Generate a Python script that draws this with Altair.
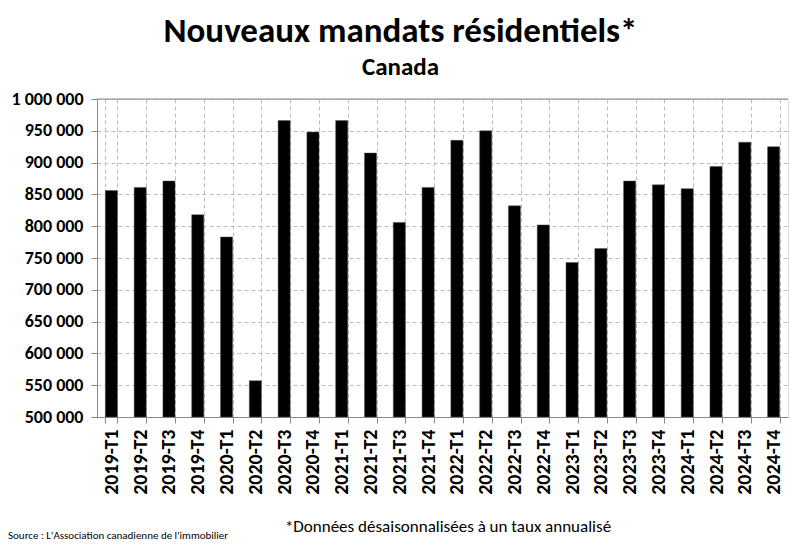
import altair as alt
import pandas as pd

periods = ["2019-T1", "2019-T2", "2019-T3", "2019-T4",
           "2020-T1", "2020-T2", "2020-T3", "2020-T4",
           "2021-T1", "2021-T2", "2021-T3", "2021-T4",
           "2022-T1", "2022-T2", "2022-T3", "2022-T4",
           "2023-T1", "2023-T2", "2023-T3", "2023-T4",
           "2024-T1", "2024-T2", "2024-T3", "2024-T4"]
values = [856000, 861000, 871000, 818000,
          783000, 557000, 966000, 948000,
          966000, 915000, 806000, 861000,
          935000, 950000, 832000, 802000,
          743000, 765000, 871000, 865000,
          859000, 894000, 932000, 925000]
y_ticks = [500000, 550000, 600000, 650000, 700000, 750000, 800000,
           850000, 900000, 950000, 1000000]

title_text = "Nouveaux mandats résidentiels*"
subtitle_text = "Canada"
source_text = "Source : L'Association canadienne de l'immobilier"
note_text = "*Données désaisonnalisées à un taux annualisé"

FONT = "Carlito, Liberation Sans Narrow, Liberation Sans, sans-serif"

df = pd.DataFrame({"periode": periods, "valeur": values})

x_enc = alt.X("periode:N", sort=periods, title=None,
              scale=alt.Scale(paddingInner=0.58, paddingOuter=0.29),
              axis=alt.Axis(labelAngle=270, labelFont=FONT, labelFontSize=20,
                            labelFontWeight="bold", labelColor="black",
                            labelPadding=6, tickBand="extent", tickSize=6,
                            tickColor="#888888", domainColor="#888888",
                            labelOverlap=False,
                            grid=True, gridDash=[4, 3], gridColor="#bbbbbb"))
y_enc = alt.Y("valeur:Q", title=None,
              scale=alt.Scale(domain=[500000, 1000000], nice=False, zero=False, clamp=True),
              axis=alt.Axis(values=y_ticks, labelFont=FONT, labelFontSize=18,
                            labelFontWeight="bold", labelColor="black",
                            labelPadding=8, tickSize=6, tickColor="#888888",
                            labelOverlap=False, labelFlush=False,
                            domainColor="#888888", gridDash=[4, 3],
                            gridColor="#bbbbbb",
                            labelExpr="replace(format(datum.value, ','), regexp(',', 'g'), ' ')"))

bars = alt.Chart(df).mark_bar(color="black", stroke="#555555", strokeWidth=0.5).encode(
    x=x_enc, y=y_enc)

top_rule = alt.Chart(pd.DataFrame({"valeur": [y_ticks[-1]]})).mark_rule(
    color="#888888", strokeWidth=1).encode(y=y_enc)

src = alt.Chart(pd.DataFrame({"t": [source_text]})).mark_text(
    align="left", baseline="middle", font=FONT, fontSize=11, color="black").encode(
    text="t:N", x=alt.value(-89), y=alt.value(437))
note = alt.Chart(pd.DataFrame({"t": [note_text]})).mark_text(
    align="center", baseline="middle", font=FONT, fontSize=17, color="black").encode(
    text="t:N", x=alt.value(351), y=alt.value(428))

chart = alt.layer(bars, top_rule, src, note).properties(
    width=691, height=318,
    autosize=alt.AutoSizeParams(type="none"),
    padding={"left": 89, "top": 91, "right": 4, "bottom": 130},
    title=alt.TitleParams(text=title_text, subtitle=subtitle_text,
                          font=FONT, fontSize=35, fontWeight="bold", color="black",
                          subtitleFont=FONT, subtitleFontSize=25,
                          subtitleFontWeight="bold", subtitleColor="black",
                          subtitlePadding=6,
                          anchor="middle", frame="group", dx=-42, offset=10)
).configure_view(stroke=None).configure(background="white")

chart.save("out.html", embed_options={"renderer": "svg", "actions": False})
